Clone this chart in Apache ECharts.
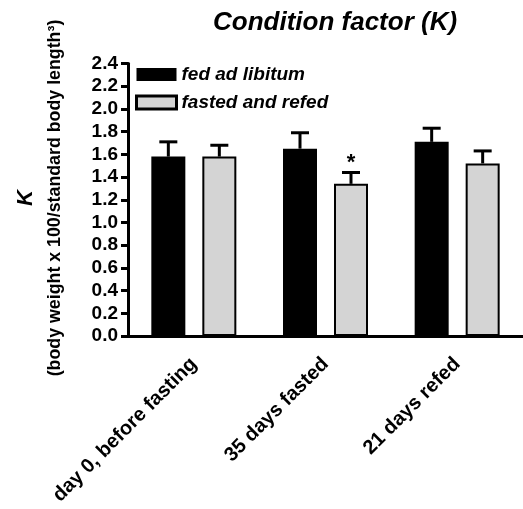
<!DOCTYPE html>
<html>
<head>
<meta charset="utf-8">
<script src="https://cdn.jsdelivr.net/npm/echarts@6/dist/echarts.min.js"></script>
<style>
  html, body { margin: 0; padding: 0; background: #fff; }
  #chart { width: 523px; height: 509px; }
</style>
</head>
<body>
<div id="chart"></div>
<script>
// Condition factor K per sampling point, mean with upper SD whisker
const categories = ['day 0, before fasting', '35 days fasted', '21 days refed'];
const fedMean = [1.58, 1.65, 1.71];
const fedUpper = [1.71, 1.79, 1.83];
const refedMean = [1.58, 1.34, 1.52];
const refedUpper = [1.68, 1.44, 1.63];
const refedMarks = ['', '*', ''];
const yTicks = { min: 0, max: 2.4, interval: 0.2 };

const FONT = '"Liberation Sans", Arial, sans-serif';
const BAR_W = 34;
const BAR_OFFSET = 25.5;

function whiskerSeries(name, means, uppers, offset, marks) {
  return {
    type: 'custom',
    name: name + ' SD',
    clip: false,
    z: 5,
    data: means.map((m, i) => [i, m, uppers[i], marks ? marks[i] : '']),
    renderItem: function (params, api) {
      const top = api.coord([api.value(0), api.value(1)]);
      const hi = api.coord([api.value(0), api.value(2)]);
      const x = top[0] + offset;
      const children = [
        { type: 'line', shape: { x1: x, y1: top[1], x2: x, y2: hi[1] },
          style: { stroke: '#000', lineWidth: 3 } },
        { type: 'line', shape: { x1: x - 9, y1: hi[1], x2: x + 9, y2: hi[1] },
          style: { stroke: '#000', lineWidth: 3 } }
      ];
      const mark = api.value(3);
      if (mark) {
        children.push({ type: 'text', x: x, y: hi[1] + 1,
          style: { text: mark, fontSize: 22, fontWeight: 'bold', fontFamily: FONT,
                   fill: '#000', align: 'center', verticalAlign: 'bottom' } });
      }
      return { type: 'group', children: children };
    }
  };
}

const chart = echarts.init(document.getElementById('chart'), null, { renderer: 'canvas' });
chart.setOption({
  animation: false,
  backgroundColor: '#fff',
  title: {
    text: 'Condition factor (K)',
    left: 208, top: 5,
    textStyle: { fontFamily: FONT, fontSize: 26, fontWeight: 'bold', fontStyle: 'italic', color: '#000' }
  },
  legend: {
    orient: 'vertical',
    left: 130, top: 60,
    itemWidth: 40, itemHeight: 13, itemGap: 9,
    textStyle: { fontFamily: FONT, fontSize: 19, fontWeight: 'bold', fontStyle: 'italic', color: '#000' },
    data: [
      { name: 'fed ad libitum', icon: 'rect', itemStyle: { color: '#000', borderColor: '#000', borderWidth: 0 } },
      { name: 'fasted and refed', icon: 'rect', itemStyle: { color: '#d4d4d4', borderColor: '#000', borderWidth: 3 } }
    ]
  },
  grid: { left: 128, right: -11, top: 63.5, bottom: 173, containLabel: false },
  xAxis: {
    type: 'category',
    data: categories,
    axisLine: { lineStyle: { color: '#000', width: 3 } },
    axisTick: { alignWithLabel: true, length: 6, lineStyle: { color: '#000', width: 3 } },
    axisLabel: { rotate: 45, margin: 25, color: '#000', fontFamily: FONT, fontSize: 20, fontWeight: 'bold' }
  },
  yAxis: {
    type: 'value',
    min: yTicks.min, max: yTicks.max, interval: yTicks.interval,
    splitLine: { show: false },
    axisLine: { show: true, lineStyle: { color: '#000', width: 3 } },
    axisTick: { show: true, length: 7, lineStyle: { color: '#000', width: 3 } },
    axisLabel: { margin: 10, color: '#000', fontFamily: FONT, fontSize: 19, fontWeight: 'bold',
                 formatter: v => v.toFixed(1) }
  },
  graphic: [
    { type: 'text', x: 26, y: 198, rotation: Math.PI / 2,
      style: { text: 'K', fontFamily: FONT, fontSize: 22, fontWeight: 'bold', fontStyle: 'italic',
               fill: '#000', align: 'center', verticalAlign: 'middle' } },
    { type: 'text', x: 55, y: 198, rotation: Math.PI / 2,
      style: { text: '(body weight x 100/standard body length\u00B3)', fontFamily: FONT, fontSize: 17.8,
               fontWeight: 'bold', fill: '#000', align: 'center', verticalAlign: 'middle' } }
  ],
  series: [
    { type: 'bar', name: 'fed ad libitum', data: fedMean, barWidth: BAR_W, barGap: '50%',
      itemStyle: { color: '#000', borderColor: '#000', borderWidth: 2 } },
    { type: 'bar', name: 'fasted and refed', data: refedMean, barWidth: BAR_W, barGap: '50%',
      itemStyle: { color: '#d4d4d4', borderColor: '#000', borderWidth: 2 } },
    whiskerSeries('fed ad libitum', fedMean, fedUpper, -BAR_OFFSET),
    whiskerSeries('fasted and refed', refedMean, refedUpper, BAR_OFFSET, refedMarks)
  ]
});
</script>
</body>
</html>
